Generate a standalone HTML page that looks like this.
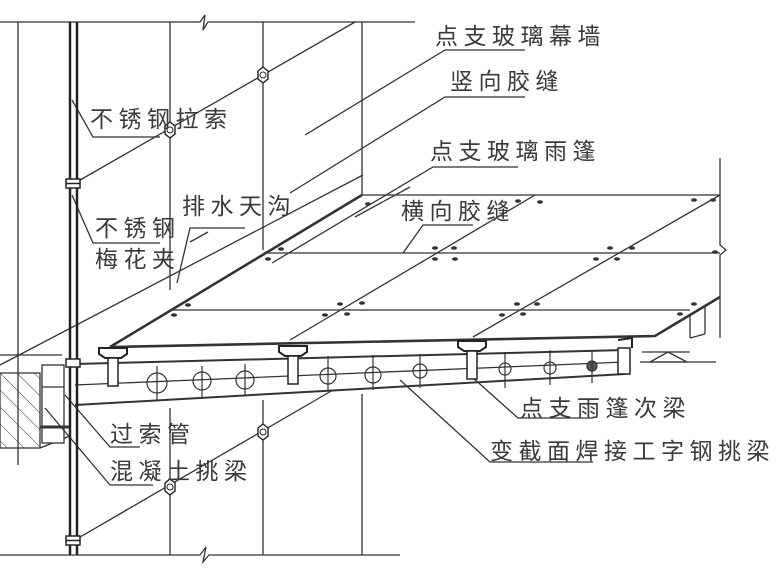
<!DOCTYPE html>
<html><head><meta charset="utf-8"><style>
html,body{margin:0;padding:0;background:#fff;}
svg{display:block;}
text{font-family:"Liberation Sans","Noto Sans CJK SC",sans-serif;fill:#3a3a3a;font-size:23px;letter-spacing:5.5px;}
</style></head><body>
<svg width="780" height="570" viewBox="0 0 780 570" xmlns="http://www.w3.org/2000/svg">
<defs>
<pattern id="h" width="12" height="12" patternUnits="userSpaceOnUse" patternTransform="rotate(-45)">
<line x1="0" y1="0" x2="0" y2="12" stroke="#444" stroke-width="1"/></pattern>
<g id="node"><path d="M0,-8 L5,-4 L5,4 L0,8 L-5,4 L-5,-4Z" fill="#fff" stroke="#222" stroke-width="1.4"/><circle r="3" fill="none" stroke="#222" stroke-width="1"/></g>
<g id="bolt"><ellipse cx="0" cy="0" rx="3" ry="1.8" fill="#333"/></g>
<g id="spider"><path d="M-14,-2 L14,-2 L14,4 L8,8 L-8,8 L-14,4Z" fill="#fff" stroke="#222" stroke-width="2"/><rect x="-5" y="8" width="10" height="28" fill="#fff" stroke="#222" stroke-width="1.5"/></g>
</defs>
<g stroke="#333" stroke-width="1.3" fill="none">
<polyline points="0,22 200,22 205,15 203,30 208,22 415,22"/>
<polyline points="0,555 200,555 206,547 203,562 209,555 400,555"/>
<line x1="18" y1="22" x2="18" y2="465"/>
<line x1="170" y1="22" x2="170" y2="290"/>
<line x1="263" y1="22" x2="263" y2="250"/>
<line x1="362" y1="22" x2="362" y2="195"/>
<line x1="170" y1="408" x2="170" y2="555"/>
<line x1="263" y1="400" x2="263" y2="555"/>
<line x1="362" y1="394" x2="362" y2="555"/>
<line x1="75" y1="183" x2="355" y2="22"/>
<line x1="75" y1="540" x2="333" y2="390"/>
<polyline points="305,135 445,50 525,50"/>
<polyline points="290,193 445,97 525,97"/>
<polyline points="272,263 433,167 518,167"/>
<line x1="208" y1="232" x2="190" y2="242"/>
<line x1="363" y1="175" x2="0" y2="365"/>
<line x1="362" y1="195" x2="110" y2="347" stroke-width="2.6"/>
<line x1="355" y1="217" x2="410" y2="187"/>
<line x1="362" y1="195" x2="720" y2="195"/>
<line x1="265" y1="253" x2="720" y2="253"/>
<line x1="173" y1="310" x2="690" y2="310"/>
<polyline points="110,347 655,336 720,297" stroke-width="2.6"/>
<polyline points="720,158 720,245 726,250 720,255 720,338"/>
<line x1="690" y1="315" x2="690" y2="338"/>
<line x1="705" y1="307" x2="705" y2="334"/>
<line x1="690" y1="338" x2="705" y2="334"/>
<line x1="290" y1="340" x2="535" y2="195"/>
<line x1="473" y1="337" x2="720" y2="195"/>
<polyline points="403,253 423,225 473,225"/>
<line x1="75" y1="364" x2="625" y2="350" stroke-width="2"/>
<line x1="75" y1="385" x2="625" y2="362"/>
<line x1="75" y1="405" x2="625" y2="374" stroke-width="2"/>
<line x1="625" y1="350" x2="625" y2="374"/>
<polygon points="0,373 40,373 40,448 0,448" fill="url(#h)"/>
<polyline points="40,448 60,440 70,436"/>
<rect x="42" y="365" width="22" height="78" fill="#fff"/>
<line x1="0" y1="355" x2="62" y2="355"/>
<line x1="42" y1="387" x2="64" y2="387"/>
<line x1="40" y1="427" x2="70" y2="427" stroke-width="3"/>
<polygon points="650,362 668,352 687,362" fill="#fff"/>
<line x1="640" y1="362" x2="716" y2="362"/>
<line x1="642" y1="352" x2="690" y2="352"/>
<g stroke-width="1.2">
<circle cx="157" cy="383" r="10"/><circle cx="202" cy="381" r="9"/><circle cx="245" cy="380" r="9"/>
<circle cx="328" cy="376" r="8"/><circle cx="373" cy="375" r="8"/><circle cx="420" cy="371" r="7"/>
<circle cx="550" cy="368" r="6"/><circle cx="592" cy="366" r="5" fill="#555"/>
<line x1="157" y1="366" x2="157" y2="400"/><line x1="202" y1="366" x2="202" y2="398"/><line x1="245" y1="364" x2="245" y2="396"/>
<line x1="328" y1="356" x2="328" y2="390"/><line x1="373" y1="355" x2="373" y2="390"/><line x1="420" y1="354" x2="420" y2="388"/>
<line x1="505" y1="352" x2="505" y2="388"/><line x1="550" y1="350" x2="550" y2="385"/><line x1="592" y1="350" x2="592" y2="383"/>
<circle cx="505" cy="369" r="6"/>
</g>
<polyline points="72,100 93,137 160,137"/>
<polyline points="72,195 93,243 160,243"/>
<polyline points="177,283 190,228 245,228"/>
<polyline points="65,395 110,447 140,447"/>
<polyline points="45,408 110,485 153,485"/>
<polyline points="472,377 518,418 593,418"/>
<polyline points="400,380 490,462 593,462"/>
</g>
<line x1="70" y1="22" x2="70" y2="555" stroke="#222" stroke-width="2.5"/>
<line x1="77" y1="22" x2="77" y2="555" stroke="#222" stroke-width="2.5"/>
<g fill="#fff" stroke="#222" stroke-width="1.5">
<rect x="66" y="179" width="14" height="9"/><line x1="66" y1="183.5" x2="80" y2="183.5"/>
<rect x="66" y="536" width="14" height="9"/><line x1="66" y1="540.5" x2="80" y2="540.5"/>
<rect x="66" y="359" width="14" height="8"/>
</g>
<use href="#node" x="263" y="75"/><use href="#node" x="170" y="130"/>
<use href="#node" x="263" y="432"/><use href="#node" x="170" y="487"/>
<use href="#spider" x="113" y="350"/><use href="#spider" x="293" y="348"/><use href="#spider" x="472" y="343"/>
<rect x="618" y="348" width="12" height="26" fill="#fff" stroke="#222" stroke-width="1.5"/>
<path d="M618,340 L632,338 L632,348" fill="none" stroke="#222" stroke-width="2"/>
<g fill="#333">
<use href="#bolt" x="368" y="204"/><use href="#bolt" x="540" y="202"/><use href="#bolt" x="518" y="201"/><use href="#bolt" x="713" y="200"/><use href="#bolt" x="694" y="200"/>
<use href="#bolt" x="268" y="259"/><use href="#bolt" x="281" y="249"/><use href="#bolt" x="435" y="259"/><use href="#bolt" x="455" y="259"/><use href="#bolt" x="435" y="248"/><use href="#bolt" x="454" y="248"/><use href="#bolt" x="596" y="259"/><use href="#bolt" x="617" y="259"/><use href="#bolt" x="610" y="248"/><use href="#bolt" x="632" y="248"/><use href="#bolt" x="715" y="252"/>
<use href="#bolt" x="174" y="315"/><use href="#bolt" x="188" y="305"/><use href="#bolt" x="325" y="315"/><use href="#bolt" x="347" y="314"/><use href="#bolt" x="340" y="304"/><use href="#bolt" x="362" y="303"/><use href="#bolt" x="502" y="315"/><use href="#bolt" x="523" y="314"/><use href="#bolt" x="517" y="304"/><use href="#bolt" x="537" y="304"/><use href="#bolt" x="680" y="314"/><use href="#bolt" x="694" y="304"/>
</g>
<text x="435" y="44">点支玻璃幕墙</text>
<text x="450" y="89">竖向胶缝</text>
<text x="430" y="159">点支玻璃雨篷</text>
<text x="401" y="219">横向胶缝</text>
<text x="90" y="127">不锈钢拉索</text>
<text x="182" y="214">排水天沟</text>
<text x="95" y="236">不锈钢</text>
<text x="95" y="267">梅花夹</text>
<text x="110" y="442">过索管</text>
<text x="110" y="479">混凝土挑梁</text>
<text x="520" y="416">点支雨篷次梁</text>
<text x="490" y="459" style="letter-spacing:5.5px">变截面焊接工字钢挑梁</text>
</svg>
</body></html>
